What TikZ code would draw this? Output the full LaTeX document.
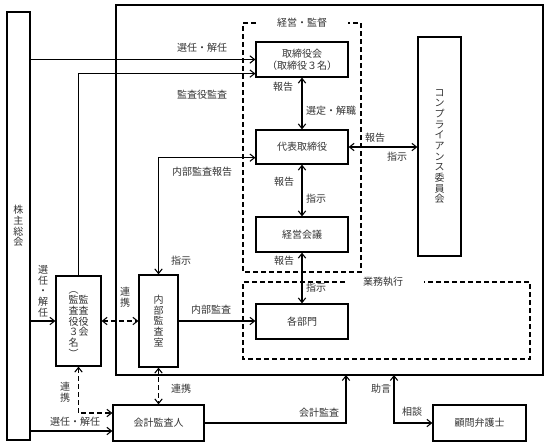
\documentclass[tikz,border=0pt]{standalone}
\usepackage{fontspec}
\setmainfont{Noto Sans CJK JP}
\usetikzlibrary{arrows.meta,calc}

\tikzset{every picture/.style={line width=0.8pt}}
% vertical (tategaki) stacking of characters
\newcommand{\tate}[1]{\parbox[t]{1em}{\centering #1}}

\tikzset{
  box/.style={draw, line width=0.9pt, inner sep=0pt, align=center, text=black!80,
    font=\fontsize{7.5}{9}\selectfont},
  vbox/.style={draw, line width=0.9pt, inner sep=0pt, text=black!80,
    font=\fontsize{7.5}{8}\selectfont},
  lbl/.style={inner sep=0.75pt, text=black!80, font=\fontsize{7.5}{8}\selectfont},
  dashline/.style={dash pattern=on 3.5pt off 2.5pt},
  arr/.style={-{Straight Barb[length=3.5pt,width=5.5pt]}},
  darr/.style={{Straight Barb[length=3.5pt,width=5.5pt]}-{Straight Barb[length=3.5pt,width=5.5pt]}},
}

\begin{document}
\begin{tikzpicture}[x=0.75pt,y=0.75pt,yscale=-1,xscale=1]
\useasboundingbox (0,0) rectangle (548,446);

%Company outline
\node[draw, line width=0.9pt, minimum width=320.25pt, minimum height=277.5pt, inner sep=0pt] (co) at (329.5,190) {};
\coordinate (coA) at (346,375);
\coordinate (coB) at (394,375);

%Dashed areas
\draw[dashline] (256,23) -- (243,23) -- (243,272) -- (361,272) -- (361,23) -- (348,23);
\node[lbl] (mgmt) at (302,23) {経営・監督};
\draw[dashline] (345,282) -- (243,282) -- (243,359) -- (530,359) -- (530,282) -- (424,282);
\node[lbl] (exec) at (383,282) {業務執行};

%Boxes
\node[vbox, minimum width=17.25pt, minimum height=321pt] (sh) at (18.5,226) {\tate{株\\主\\総\\会}};
\node[box, minimum width=69pt, minimum height=26.25pt] (tb) at (302,59.5) {取締役会\\（取締役３名）};
\node[box, minimum width=69pt, minimum height=25.5pt] (rep) at (302,147) {代表取締役};
\node[box, minimum width=69pt, minimum height=26.25pt] (mtg) at (302,234.5) {経営会議};
\node[box, minimum width=69pt, minimum height=26.25pt] (dep) at (302,321.5) {各部門};
\node[vbox, minimum width=32.25pt, minimum height=164.25pt] (comp) at (439.5,146.5) {\tate{コ\\ン\\プ\\ラ\\イ\\ア\\ン\\ス\\委\\員\\会}};
\node[vbox, minimum width=33.75pt, minimum height=67.5pt] (kan) at (78.5,321) {\tate{︵\\監\\査\\役\\３\\名\\︶}\tate{\phantom{監}\\監\\査\\役\\会}};
\node[vbox, minimum width=29.25pt, minimum height=69pt] (ia) at (158.5,321) {\tate{内\\部\\監\\査\\室}};
\node[box, minimum width=68.25pt, minimum height=27pt] (acc) at (158.5,423) {会計監査人};
\node[box, minimum width=69.75pt, minimum height=27pt] (law) at (479.5,423) {顧問弁護士};

%Connectors
\draw[arr] (sh.east |- tb.west) -- (tb.west);
\draw[arr] (kan.north) |- ([yshift=-3pt]tb.south west);
\draw[darr] ([yshift=8pt]rep.west) -| (ia.north);
\draw[darr] (tb) -- (rep);
\draw[darr] (rep) -- (mtg);
\draw[darr] (mtg) -- (dep);
\draw[darr] (rep.east) -- (comp.west |- rep.east);
\draw[arr] (sh.east |- kan.west) -- (kan.west);
\draw[darr, dashline] (kan.east) -- (ia.west);
\draw[arr] (ia.east) -- (dep.west |- ia.east);
\draw[darr, dashline] (kan.south) |- ([yshift=-7.5pt]acc.west);
\draw[darr, dashline] (ia.south) -- (acc.north);
\draw[arr] ([yshift=6pt]acc.west -| sh.east) -- ([yshift=6pt]acc.west);
\draw[arr] (acc.east) -| (coA);
\draw[darr] (coB) |- (law.west);

%Labels
\node[lbl] (lsenA) at (202,48) {選任・解任};
\node[lbl] (lkansa) at (202,95) {監査役監査};
\node[lbl] (lhoA) at (283,87) {報告};
\node[lbl] (lsentei) at (331,111) {選定・解職};
\node[lbl] (lhoC) at (375,138) {報告};
\node[lbl] (lshiC) at (397,157) {指示};
\node[lbl] (lhoB) at (284,182) {報告};
\node[lbl] (lshiB) at (316,199) {指示};
\node[lbl] (lhoD) at (284,261) {報告};
\node[lbl] (lshiD) at (316,288) {指示};
\node[lbl] (lnaiho) at (202,172) {内部監査報告};
\node[lbl] (lshiA) at (181,261) {指示};
\node[lbl] (lsenB) at (43,291) {\tate{選\\任\\・\\解\\任}};
\node[lbl] (lrenA) at (125,297) {\tate{連\\携}};
\node[lbl] (lnaibu) at (211,310) {内部監査};
\node[lbl] (lrenB) at (65,392) {\tate{連\\携}};
\node[lbl] (lrenC) at (181,389) {連携};
\node[lbl] (lsenC) at (75,422) {選任・解任};
\node[lbl] (lkaikei) at (319,413) {会計監査};
\node[lbl] (ljogen) at (381,389) {助言};
\node[lbl] (lsodan) at (412,412) {相談};

\end{tikzpicture}
\end{document}
